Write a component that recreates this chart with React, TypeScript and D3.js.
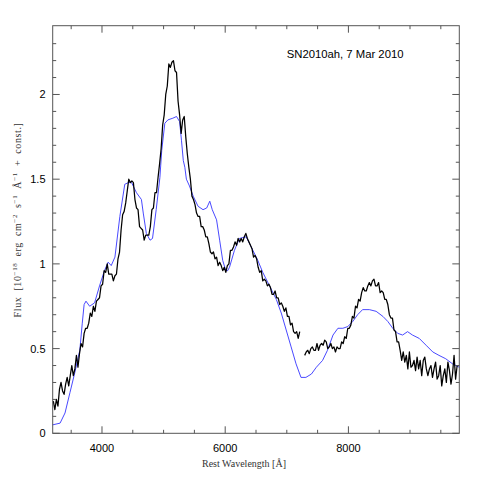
import React from "react";
import * as d3 from "d3";

// observed spectrum, segment 1: 3210 A onward, 25 A sampling
const obsStart1 = 3210;
const obsFlux1 = [
  0.19, 0.14, 0.20, 0.16, 0.26, 0.30, 0.25, 0.23, 0.29, 0.33, 0.28, 0.34, 0.40, 0.34, 0.38, 0.46,
  0.39, 0.47, 0.53, 0.51, 0.59, 0.62, 0.62, 0.65, 0.71, 0.69, 0.75, 0.72, 0.78, 0.79, 0.80, 0.87,
  0.88, 0.96, 0.95, 1.00, 0.94, 0.94, 0.94, 0.90, 0.93, 0.94, 1.03, 1.07, 1.20, 1.29, 1.31, 1.36,
  1.43, 1.50, 1.48, 1.49, 1.48, 1.38, 1.33, 1.32, 1.22, 1.21, 1.20, 1.14, 1.17, 1.17, 1.17, 1.22,
  1.32, 1.33, 1.42, 1.42, 1.51, 1.59, 1.68, 1.82, 1.88, 2.00, 2.05, 2.18, 2.16, 2.19, 2.20, 2.14,
  2.13, 1.96, 1.88, 1.77, 1.85, 1.87, 1.75, 1.65, 1.57, 1.50, 1.40, 1.38, 1.35, 1.30, 1.28, 1.28,
  1.22, 1.22, 1.20, 1.16, 1.16, 1.12, 1.07, 1.06, 1.07, 1.03, 1.04, 0.99, 1.01, 0.99, 0.96, 0.98,
  0.95, 0.99, 1.00, 1.08, 1.08, 1.10, 1.13, 1.11, 1.15, 1.13, 1.15, 1.13, 1.16, 1.18, 1.15, 1.13,
  1.11, 1.09, 1.04, 1.05, 1.03, 0.98, 0.95, 0.96, 0.90, 0.91, 0.90, 0.87, 0.88, 0.86, 0.82, 0.82,
  0.84, 0.80, 0.80, 0.76, 0.77, 0.75, 0.72, 0.74, 0.69, 0.69, 0.64, 0.65, 0.60, 0.59, 0.60, 0.56,
  0.60,
];

// observed spectrum, segment 2 (after the gap): 7290 A onward, 25 A sampling
const obsStart2 = 7290;
const obsFlux2 = [
  0.46, 0.48, 0.49, 0.47, 0.50, 0.51, 0.49, 0.49, 0.53, 0.49, 0.52, 0.53, 0.52, 0.55, 0.54, 0.50,
  0.51, 0.53, 0.50, 0.51, 0.48, 0.51, 0.50, 0.50, 0.54, 0.53, 0.57, 0.56, 0.62, 0.62, 0.64, 0.69,
  0.68, 0.75, 0.74, 0.79, 0.78, 0.83, 0.86, 0.84, 0.84, 0.87, 0.89, 0.87, 0.90, 0.91, 0.87, 0.87,
  0.89, 0.83, 0.84, 0.83, 0.79, 0.79, 0.76, 0.70, 0.68, 0.68, 0.61, 0.60, 0.54, 0.54, 0.49, 0.43,
  0.48, 0.42, 0.46, 0.38, 0.48, 0.39, 0.40, 0.43, 0.37, 0.45, 0.38, 0.43, 0.34, 0.43, 0.45, 0.38,
  0.34, 0.38, 0.40, 0.33, 0.38, 0.42, 0.32, 0.34, 0.40, 0.28, 0.34, 0.38, 0.30, 0.42, 0.37, 0.29,
  0.35, 0.46, 0.32, 0.40,
];
const obsStep = 25;

// comparison spectrum
const modelWave = [
  3200, 3320, 3400, 3480, 3560, 3640, 3680, 3710, 3740, 3800, 3880, 3960, 4040, 4100, 4150, 4210,
  4290, 4370, 4430, 4480, 4560, 4640, 4670, 4720, 4780, 4820, 4880, 4940, 4970, 5020, 5070, 5150,
  5210, 5260, 5290, 5320, 5345, 5370, 5420, 5480, 5560, 5640, 5700, 5750, 5790, 5860, 5910, 5960,
  6010, 6040, 6070, 6150, 6230, 6340, 6450, 6530, 6610, 6720, 6830, 6910, 6990, 7070, 7150, 7230,
  7310, 7400, 7480, 7580, 7660, 7750, 7830, 7910, 7990, 8070, 8150, 8230, 8340, 8450, 8560, 8640,
  8720, 8800, 8880, 8960, 9040, 9150, 9260, 9370, 9470, 9580, 9690, 9800,
];
const modelFlux = [
  0.05, 0.06, 0.12, 0.24, 0.36, 0.49, 0.65, 0.76, 0.78, 0.75, 0.77, 0.87, 0.96, 1.01, 0.99, 1.04,
  1.28, 1.47, 1.48, 1.48, 1.42, 1.38, 1.30, 1.18, 1.14, 1.15, 1.32, 1.51, 1.67, 1.83, 1.85, 1.86,
  1.87, 1.84, 1.73, 1.61, 1.57, 1.50, 1.46, 1.40, 1.34, 1.32, 1.33, 1.37, 1.32, 1.26, 1.14, 1.02,
  0.96, 0.96, 0.98, 1.08, 1.15, 1.16, 1.08, 1.02, 0.95, 0.87, 0.79, 0.71, 0.61, 0.51, 0.41, 0.33,
  0.33, 0.35, 0.39, 0.43, 0.49, 0.58, 0.62, 0.62, 0.63, 0.66, 0.70, 0.73, 0.73, 0.72, 0.69, 0.66,
  0.62, 0.59, 0.58, 0.60, 0.58, 0.56, 0.52, 0.48, 0.46, 0.44, 0.41, 0.39,
];

const xMajor = [4000, 6000, 8000];
const xMajorLabels = ["4000", "6000", "8000"];
const yMajor = [0, 0.5, 1, 1.5, 2];
const yMajorLabels = ["0", "0.5", "1", "1.5", "2"];

const W = 485, H = 485;
const left = 52.7, right = 459.3, top = 25.7, bottom = 433.3;

export default function App() {
  const x = d3.scaleLinear().domain([3200, 9800]).range([left, right]);
  const y = d3.scaleLinear().domain([0, 2.406]).range([bottom, top]);

  const line = d3.line<[number, number]>().x(d => x(d[0])).y(d => y(d[1]));

  const seg1 = obsFlux1.map((f, i) => [obsStart1 + i * obsStep, f] as [number, number]);
  const seg2 = obsFlux2.map((f, i) => [obsStart2 + i * obsStep, f] as [number, number]);
  const model = modelWave.map((w, i) => [w, modelFlux[i]] as [number, number]);

  const xMinor = d3.range(3500, 9800, 500).filter(v => !xMajor.includes(v));
  const yMinor = d3.range(0.1, 2.4, 0.1).filter(v => !yMajor.some(m => Math.abs(m - v) < 1e-6));

  const axisColor = "#555";
  const sans = "'Liberation Sans', Arial, sans-serif";
  const serif = "'Liberation Serif', serif";

  return (
    <svg width={W} height={H} style={{ position: "absolute", left: 0, top: 0, background: "#fff" }}>
      <rect x={0} y={0} width={W} height={H} fill="#fff" />
      <g fill="none" strokeLinejoin="round">
        <path d={line(model) || ""} stroke="#3434ff" strokeWidth={0.9} />
        <path d={line(seg1) || ""} stroke="#000" strokeWidth={1.25} />
        <path d={line(seg2) || ""} stroke="#000" strokeWidth={1.25} />
      </g>

      {/* frame */}
      <rect x={left} y={top} width={right - left} height={bottom - top} fill="none" stroke={axisColor} strokeWidth={1} />

      {/* ticks, inward on all sides */}
      <g stroke={axisColor} strokeWidth={1}>
        {xMajor.map(v => (
          <g key={"xM" + v}>
            <line x1={x(v)} x2={x(v)} y1={bottom} y2={bottom - 7} />
            <line x1={x(v)} x2={x(v)} y1={top} y2={top + 7} />
          </g>
        ))}
        {xMinor.map(v => (
          <g key={"xm" + v}>
            <line x1={x(v)} x2={x(v)} y1={bottom} y2={bottom - 3.5} />
            <line x1={x(v)} x2={x(v)} y1={top} y2={top + 3.5} />
          </g>
        ))}
        {yMajor.map(v => (
          <g key={"yM" + v}>
            <line x1={left} x2={left + 7} y1={y(v)} y2={y(v)} />
            <line x1={right} x2={right - 7} y1={y(v)} y2={y(v)} />
          </g>
        ))}
        {yMinor.map(v => (
          <g key={"ym" + v}>
            <line x1={left} x2={left + 3.5} y1={y(v)} y2={y(v)} />
            <line x1={right} x2={right - 3.5} y1={y(v)} y2={y(v)} />
          </g>
        ))}
      </g>

      {/* tick labels */}
      <g fontFamily={sans} fontSize={11} fill="#000">
        {xMajor.map((v, i) => (
          <text key={"xl" + v} x={x(v)} y={452} textAnchor="middle">{xMajorLabels[i]}</text>
        ))}
        {yMajor.map((v, i) => (
          <text key={"yl" + v} x={45.5} y={y(v) + 4} textAnchor="end">{yMajorLabels[i]}</text>
        ))}
      </g>

      {/* annotation */}
      <text x={286.7} y={57.5} fontFamily={sans} fontSize={11.3} fill="#000">SN2010ah, 7 Mar 2010</text>

      {/* axis titles */}
      <text x={244} y={467} textAnchor="middle" fontFamily={serif} fontSize={10} fill="#333">
        Rest Wavelength [Å]
      </text>
      <text
        transform="translate(21,220) rotate(-90)"
        textAnchor="middle"
        fontFamily={serif}
        fontSize={10}
        fill="#333"
        letterSpacing={0.6}
        wordSpacing={3}
      >
        Flux [10<tspan dy={-4} fontSize={7}>−18</tspan><tspan dy={4}> erg cm</tspan>
        <tspan dy={-4} fontSize={7}>−2</tspan><tspan dy={4}> s</tspan>
        <tspan dy={-4} fontSize={7}>−1</tspan><tspan dy={4}> Å</tspan>
        <tspan dy={-4} fontSize={7}>−1</tspan><tspan dy={4}> + const.]</tspan>
      </text>
    </svg>
  );
}
